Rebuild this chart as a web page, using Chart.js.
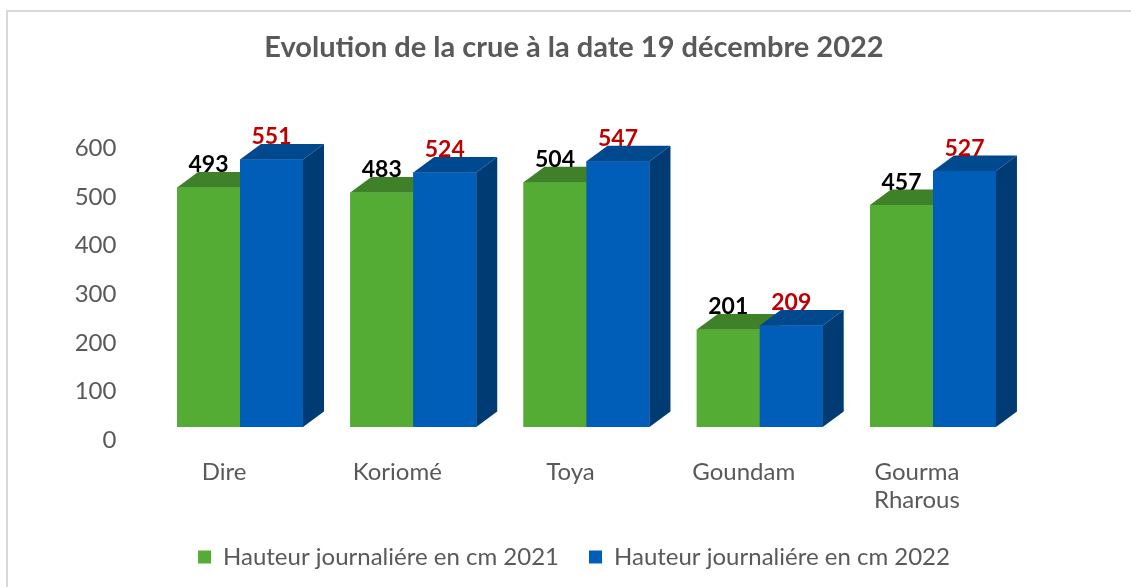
<!DOCTYPE html>
<html>
<head>
<meta charset="utf-8">
<script src="https://cdn.jsdelivr.net/npm/chart.js@4.4.0/dist/chart.umd.min.js"></script>
<style>
  html, body { margin: 0; padding: 0; background: #fff; overflow: hidden; }
  #frame { position: absolute; left: 6px; top: 10px; width: 1200px; height: 700px; border: 2px solid #d9d9d9; }
  #wrap { position: absolute; left: 0; top: 0; width: 1131px; height: 587px; }
</style>
</head>
<body>
<div id="frame"></div>
<div id="wrap"><canvas id="chart" width="1131" height="587"></canvas></div>
<script>
// --------------------
// Data
// --------------------
const categories = ['Dire', 'Koriomé', 'Toya', 'Goundam', ['Gourma', 'Rharous']];
const values2021 = [493, 483, 504, 201, 457];
const values2022 = [551, 524, 547, 209, 527];
const seriesNames = ['Hauteur journaliére en cm 2021', 'Hauteur journaliére en cm 2022'];

// --------------------
// 3D look: top + side faces, drawn after the fronts
// --------------------
const DX = 21, DY = 15.5, SHIFT = 13;
const faceColors = [
    { top: '#3f8128', side: '#3a7a25', label: '#000000' },
    { top: '#00498e', side: '#003b74', label: '#c00000' }
];

const bars3d = {
    id: 'bars3d',
    beforeDatasetsDraw(chart) {
        chart.ctx.save();
        chart.ctx.translate(0, -SHIFT); // Excel puts the front face a bit above the axis labels
    },
    afterDatasetsDraw(chart) {
        const ctx = chart.ctx;
        const metas = chart.data.datasets.map((d, i) => chart.getDatasetMeta(i));
        for (let i = 0; i < categories.length; i++) {
            metas.forEach((meta, d) => {
                const bar = meta.data[i];
                const { x, y, base, width } = bar.getProps(['x', 'y', 'base', 'width'], true);
                const l = x - width / 2, r = x + width / 2;
                bar.draw(ctx);
                ctx.fillStyle = faceColors[d].top;
                ctx.beginPath();
                ctx.moveTo(l, y); ctx.lineTo(l + DX, y - DY); ctx.lineTo(r + DX, y - DY); ctx.lineTo(r, y);
                ctx.closePath(); ctx.fill();
                ctx.fillStyle = faceColors[d].side;
                ctx.beginPath();
                ctx.moveTo(r, y); ctx.lineTo(r + DX, y - DY); ctx.lineTo(r + DX, base - DY); ctx.lineTo(r, base);
                ctx.closePath(); ctx.fill();
            });
        }
        ctx.restore();

        // value labels
        ctx.save();
        ctx.font = 'bold 23px Lato';
        ctx.textAlign = 'center';
        ctx.textBaseline = 'alphabetic';
        metas.forEach((meta, d) => {
            ctx.fillStyle = faceColors[d].label;
            meta.data.forEach((bar, i) => {
                const v = chart.data.datasets[d].data[i];
                ctx.fillText(String(v), bar.x, bar.y - SHIFT - DY);
            });
        });
        ctx.restore();
    }
};

// --------------------
// Chart
// --------------------
const ctx = document.getElementById('chart').getContext('2d');
new Chart(ctx, {
    type: 'bar',
    data: {
        labels: categories,
        datasets: [
            { label: seriesNames[0], data: values2021, backgroundColor: '#54ac34', borderWidth: 0, clip: false },
            { label: seriesNames[1], data: values2022, backgroundColor: '#005eb8', borderWidth: 0, clip: false }
        ]
    },
    options: {
        responsive: false,
        animation: false,
        layout: { padding: { left: 17, right: 0, top: 0, bottom: 8 } },
        datasets: { bar: { barPercentage: 1, categoryPercentage: 0.727 } },
        scales: {
            x: {
                grid: { display: false, drawTicks: false },
                border: { display: false },
                ticks: {
                    color: '#595959',
                    font: { family: 'Lato', size: 24, lineHeight: 1.167 },
                    padding: 18,
                    labelOffset: -16,
                    maxRotation: 0,
                    autoSkip: false
                },
                afterFit: s => { s.height = 75; }
            },
            y: {
                min: 0,
                max: 600,
                grid: { display: false, drawTicks: false },
                border: { display: false },
                ticks: {
                    stepSize: 100,
                    color: '#595959',
                    font: { family: 'Lato', size: 24 },
                    padding: 37
                },
                afterFit: s => { s.width = 136.4; }
            },
            yR: {
                position: 'right',
                min: 0,
                max: 600,
                grid: { display: false, drawTicks: false },
                border: { display: false },
                ticks: { display: false },
                afterFit: s => { s.width = 111.4; }
            }
        },
        plugins: {
            title: {
                display: true,
                text: 'Evolution de la crue à la date 19 décembre 2022',
                color: '#595959',
                font: { family: 'Lato', size: 29, weight: 'bold', lineHeight: 1.2 },
                padding: { top: 30.6, bottom: 83.2 }
            },
            legend: {
                position: 'bottom',
                labels: {
                    color: '#595959',
                    font: { family: 'Lato', size: 24 },
                    boxWidth: 13,
                    boxHeight: 13,
                    padding: 30,
                    sort: (a, b) => a.datasetIndex - b.datasetIndex
                }
            },
            tooltip: { enabled: false }
        }
    },
    plugins: [bars3d]
});
</script>
</body>
</html>
